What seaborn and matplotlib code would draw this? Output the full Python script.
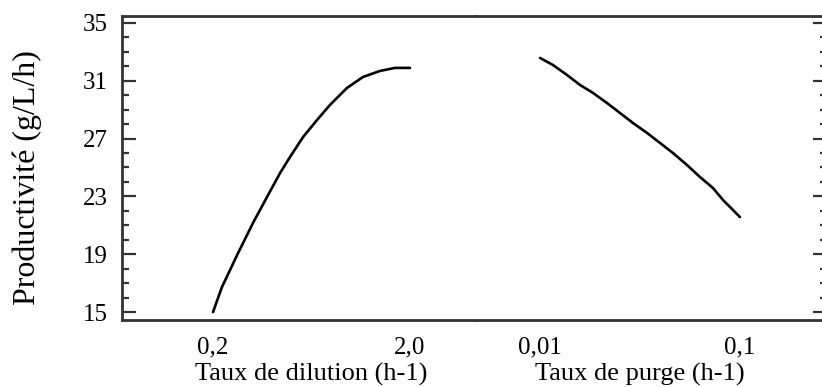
import matplotlib
matplotlib.use('Agg')
import matplotlib.pyplot as plt
from matplotlib.ticker import FixedLocator, MultipleLocator, NullLocator
from matplotlib.transforms import blended_transform_factory
import pandas as pd
import seaborn as sns

# dilution rate (h-1) vs productivity
dilution = [0.2, 0.222, 0.265, 0.319, 0.376, 0.438, 0.492, 0.573, 0.675,
            0.785, 0.957, 1.154, 1.408, 1.68, 2.0]
prod_dilution = [15.0, 16.73, 18.94, 21.16, 22.96, 24.62, 25.73, 27.11, 28.29,
                 29.33, 30.50, 31.26, 31.68, 31.89, 31.89]

# purge rate (h-1) vs productivity
purge = [0.01, 0.01161, 0.01365, 0.01585, 0.01841, 0.02163, 0.02512, 0.02917,
         0.03428, 0.03981, 0.04624, 0.05433, 0.0631, 0.07328, 0.08222, 0.09226, 0.1]
prod_purge = [32.58, 32.09, 31.40, 30.71, 30.16, 29.46, 28.77, 28.08,
              27.39, 26.70, 26.00, 25.17, 24.34, 23.58, 22.75, 22.06, 21.57]

dil_ticks = [0.2, 2.0]
dil_labels = ['0,2', '2,0']
purge_ticks = [0.01, 0.1]
purge_labels = ['0,01', '0,1']
y_major = [15, 19, 23, 27, 31, 35]

sns.set_theme(style='ticks')
plt.rcParams['font.family'] = ['Liberation Serif', 'DejaVu Serif']

W, H = 822, 387
fig = plt.figure(figsize=(W / 100, H / 100), dpi=100)
bottom = 1 - 320 / H
height = (320 - 16) / H
ax1 = fig.add_axes([122 / W, bottom, (475 - 122) / W, height])
ax2 = fig.add_axes([475 / W, bottom, (827 - 475) / W, height])

ink = '#000000'
frame = '#333333'

df1 = pd.DataFrame({'x': dilution, 'y': prod_dilution})
df2 = pd.DataFrame({'x': purge, 'y': prod_purge})
sns.lineplot(data=df1, x='x', y='y', ax=ax1, color=ink, linewidth=1.9, sort=False)
sns.lineplot(data=df2, x='x', y='y', ax=ax2, color=ink, linewidth=1.9, sort=False)

ax1.set_xscale('log')
ax2.set_xscale('log')
ax1.set_xlim(0.0690, 4.276)
ax2.set_xlim(0.004732, 0.2723)
ax1.set_xticks(dil_ticks)
ax1.set_xticklabels(dil_labels)
ax2.set_xticks(purge_ticks)
ax2.set_xticklabels(purge_labels)

for ax in (ax1, ax2):
    ax.set_ylim(14.45, 35.48)
    ax.xaxis.set_minor_locator(NullLocator())
    ax.yaxis.set_major_locator(FixedLocator(y_major))
    ax.yaxis.set_minor_locator(MultipleLocator(1))
    for s in ax.spines.values():
        s.set_linewidth(2.0)
        s.set_color(frame)
    ax.tick_params(axis='x', which='both', length=0, pad=12, labelsize=18, colors=ink)
    ax.tick_params(axis='y', which='major', direction='in', length=10, width=1.6, color=frame)
    ax.tick_params(axis='y', which='minor', direction='in', length=5, width=1.6, color=frame)
    ax.set_ylabel('')

ax1.spines['right'].set_visible(False)
ax2.spines['left'].set_visible(False)
ax1.tick_params(axis='y', which='both', left=True, right=False, labelsize=18, labelcolor=ink, pad=10)
ax2.tick_params(axis='y', which='both', left=False, right=True, labelleft=False, labelright=False)

ax1.set_xlabel('Taux de dilution (h-1)', fontsize=19, color=ink)
ax2.set_xlabel('Taux de purge (h-1)', fontsize=19, color=ink)
ax1.xaxis.set_label_coords(0.632, -0.142, transform=blended_transform_factory(ax1.transData, ax1.transAxes))
ax2.xaxis.set_label_coords(0.0316, -0.142, transform=blended_transform_factory(ax2.transData, ax2.transAxes))
ax1.xaxis.label.set_va('top')
ax2.xaxis.label.set_va('top')

ax1.set_ylabel('Productivité (g/L/h)', fontsize=23, color=ink)
ax1.yaxis.set_label_coords(-0.2266, 0.47)

fig.savefig('out.png', dpi=100)
